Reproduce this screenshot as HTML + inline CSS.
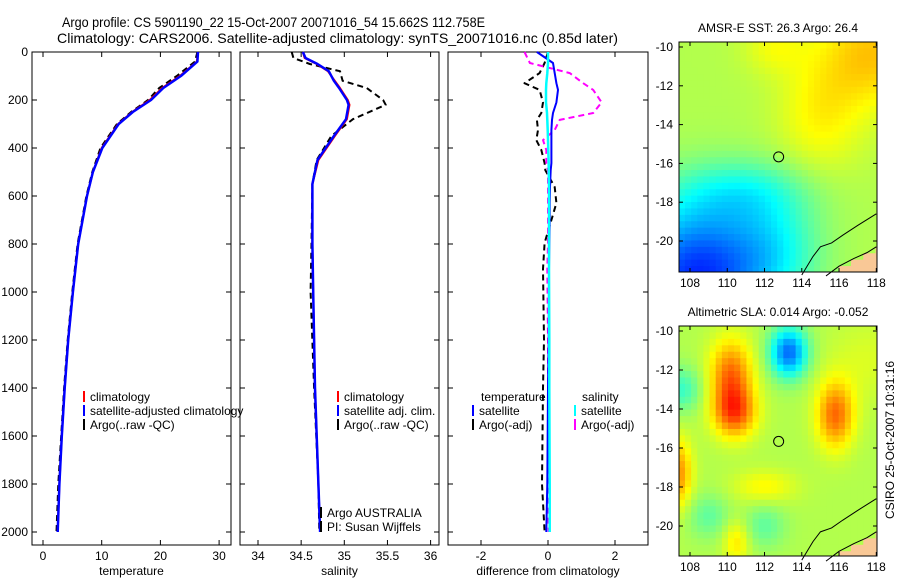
<!DOCTYPE html>
<html><head><meta charset="utf-8"><style>
body{margin:0;background:#fff;}
svg{display:block;font-family:"Liberation Sans",sans-serif;}
text{font-size:12px;fill:#000;}
</style></head><body>
<svg id="fig" width="900" height="580" viewBox="0 0 900 580" xmlns="http://www.w3.org/2000/svg">
<rect width="900" height="580" fill="#fff"/>
<text x="62" y="27" style="font-size:14px" textLength="423" lengthAdjust="spacingAndGlyphs">Argo profile: CS 5901190_22 15-Oct-2007 20071016_54 15.662S 112.758E</text>
<text x="57" y="43" style="font-size:14px" textLength="561" lengthAdjust="spacingAndGlyphs">Climatology: CARS2006. Satellite-adjusted climatology: synTS_20071016.nc (0.85d later)</text>
<g id="layer"></g>
</svg>
<script>
// ---- data ----
const tDepth=[0,40,100,150,200,250,300,400,500,600,800,1000,1200,1400,1600,1800,2000];
const tClim=[26.4,26.2,23.3,20.3,18.2,15.2,12.8,10,8.5,7.5,6.0,5.1,4.3,3.7,3.2,2.8,2.5];
const tSat=[26.4,26.3,23.5,20.5,18.4,15.3,12.9,10.1,8.5,7.5,6.0,5.1,4.3,3.7,3.2,2.8,2.5];
const tArgo=[26.3,25.9,22.8,19.8,17.9,15.0,12.6,9.8,8.4,7.4,5.9,5.0,4.2,3.6,3.1,2.6,2.3];
const sDepth=[0,25,50,80,120,150,200,220,280,350,450,550,800,1000,1400,1800,2000];
const sClim=[34.52,34.54,34.68,34.81,34.89,34.95,35.04,35.06,35.03,34.89,34.70,34.63,34.63,34.64,34.66,34.70,34.72];
const sSat=[34.52,34.55,34.69,34.82,34.88,34.94,35.03,35.05,35.02,34.88,34.69,34.63,34.63,34.64,34.66,34.70,34.72];
const sArgo=[34.39,34.41,34.60,34.95,34.98,35.26,35.45,35.48,35.10,34.85,34.68,34.63,34.62,34.61,34.65,34.70,34.71];
const dDepth=[0,46,88,130,158,210,254,283,325,367,408,463,492,563,629,700,796,904,1200,1400,1800,2000];
const dTsat=[-0.33,0.15,0.2,0.25,0.3,0.25,0.15,0.12,0.1,0.1,0.1,0.1,0.08,0.06,0.05,0.05,0.04,0.03,0.02,0.0,-0.02,-0.05];
const dTargo=[0,-0.1,-0.25,-0.7,-0.25,-0.15,-0.2,-0.33,-0.3,-0.35,-0.2,-0.1,-0.08,0.2,0.25,0.1,-0.1,-0.15,-0.12,-0.15,-0.18,-0.1];
const dSsat=[0,0,-0.02,-0.05,-0.06,-0.06,-0.03,-0.02,-0.01,0,0.01,0.02,0.02,0.03,0.03,0.03,0.03,0.03,0.04,0.04,0.05,0.05];
const dSargo=[-0.7,-0.54,0.65,1.05,1.35,1.6,1.35,0.35,0.2,-0.15,-0.05,-0.05,0,0,0,0,0,-0.02,0,0,0,0.02];
const depthTicks=[0,200,400,600,800,1000,1200,1400,1600,1800,2000];
const tTicks=[0,10,20,30];
const sTicks=[34,34.5,35,35.5,36];
const dTicks=[-2,0,2];
const latTicks=[-10,-12,-14,-16,-18,-20];
const lonTicks=[108,110,112,114,116,118];

const NS='http://www.w3.org/2000/svg';
const L=document.getElementById('layer');
function mk(tag,attrs,parent){const e=document.createElementNS(NS,tag);for(const k in attrs)e.setAttribute(k,attrs[k]);(parent||L).appendChild(e);return e;}
function txt(x,y,s,anchor,parent){const e=mk('text',{x:x,y:y,'text-anchor':anchor||'start'},parent);e.textContent=s;return e;}
const yD=d=>52+d*0.24;
const Y0=52,Y1=545;

function panel(name,x0,x1,xs,ticks,fmt,label,showY){
  const g=mk('g',{});
  
  
  const r=mk('rect',{x:x0,y:Y0,width:x1-x0,height:Y1-Y0,fill:'none',stroke:'#000','stroke-width':1},g);
  
  
  ticks.forEach(t=>{const x=xs(t);
    mk('line',{x1:x,x2:x,y1:Y1,y2:Y1-5,stroke:'#000'},g);
    mk('line',{x1:x,x2:x,y1:Y0,y2:Y0+5,stroke:'#000'},g);
    const tl=txt(x,560,fmt(t),'middle',g);
    
    });
  depthTicks.forEach(d=>{const y=yD(d);
    mk('line',{x1:x0,x2:x0+5,y1:y,y2:y,stroke:'#000'},g);
    mk('line',{x1:x1,x2:x1-5,y1:y,y2:y,stroke:'#000'},g);
    if(showY){const tl=txt(28,y+4,String(d),'end',g);
      
      }});
  const xl=txt((x0+x1)/2,575,label,'middle',g);
  
  
  return g;
}
function series(name,xs,vals,depths,color,w,dash){
  const pts=vals.map((v,i)=>xs(v).toFixed(1)+','+yD(depths[i]).toFixed(1)).join(' ');
  const p=mk('polyline',{points:pts,fill:'none',stroke:color,'stroke-width':w,'stroke-dasharray':dash||'none','stroke-linejoin':'round'});
  
  
}
function legend(x,y,color,label,name){
  const l=mk('line',{x1:x,x2:x,y1:y-10,y2:y+1,stroke:color,'stroke-width':2});
  
  
  const t=txt(x+6,y,label);
  
  
}

const xT=t=>43+5.87*t;
panel('temperature-panel',32,231,xT,tTicks,String,'temperature',true);
series('temperature-argo',xT,tArgo,tDepth,'#000',2,'6,4');
series('temperature-climatology',xT,tClim,tDepth,'#f00',2);
series('temperature-satellite',xT,tSat,tDepth,'#00f',2.5);
legend(84,401,'#f00','climatology','legend-climatology');
legend(84,415,'#00f','satellite-adjusted climatology','legend-satellite-adjusted');
legend(84,429,'#000','Argo(..raw -QC)','legend-argo');

const xS=s=>258+86.3*(s-34);
panel('salinity-panel',240,439,xS,sTicks,String,'salinity',false);
series('salinity-argo',xS,sArgo,sDepth,'#000',2,'6,4');
series('salinity-climatology',xS,sClim,sDepth,'#f00',2);
series('salinity-satellite',xS,sSat,sDepth,'#00f',2.5);
legend(338,401,'#f00','climatology','legend-sal-climatology');
legend(338,415,'#00f','satellite adj. clim.','legend-sal-satellite');
legend(338,429,'#000','Argo(..raw -QC)','legend-sal-argo');
legend(321,517,'#000','Argo AUSTRALIA','credit-argo-australia');
legend(321,531,'#000','PI: Susan Wijffels','credit-pi');

const xDf=d=>548+33.5*d;
panel('difference-panel',448,648,xDf,dTicks,String,'difference from climatology',false);
series('diff-temperature-argo',xDf,dTargo,dDepth,'#000',2,'6,4');
series('diff-salinity-argo',xDf,dSargo,dDepth,'#f0f',2,'6,4');
series('diff-temperature-satellite',xDf,dTsat,dDepth,'#00f',2);
series('diff-salinity-satellite',xDf,dSsat,dDepth,'#0ff',2.5);
const lt=txt(481,401,'temperature');
const ls=txt(582,401,'salinity');
legend(473,415,'#00f','satellite','legend-diff-temp-satellite');
legend(473,429,'#000','Argo(-adj)','legend-diff-temp-argo');
legend(575,415,'#0ff','satellite','legend-diff-sal-satellite');
legend(575,429,'#f0f','Argo(-adj)','legend-diff-sal-argo');

function jet(v){v=Math.max(0,Math.min(1,v));
  const r=Math.max(0,Math.min(1,1.5-Math.abs(4*v-3)));
  const g=Math.max(0,Math.min(1,1.5-Math.abs(4*v-2)));
  const b=Math.max(0,Math.min(1,1.5-Math.abs(4*v-1)));
  return 'rgb('+Math.round(r*255)+','+Math.round(g*255)+','+Math.round(b*255)+')';}
function gs(lo,la,clo,cla,s){const dx=lo-clo,dy=la-cla;return Math.exp(-(dx*dx+dy*dy)/(2*s*s));}
function gsa(lo,la,clo,cla,sx,sy){const dx=(lo-clo)/sx,dy=(la-cla)/sy;return Math.exp(-(dx*dx+dy*dy)/2);}
const sstField=(lo,la)=>0.55+0.13*gs(lo,la,117.8,-10.3,2.0)+0.08*gsa(lo,la,115,-13.5,1.6,2.2)+0.06*gsa(lo,la,112.5,-10,1.2,1.0)
  -0.38*gs(lo,la,108.3,-21.8,2.6)-0.13*gs(lo,la,112.5,-20.5,1.8)-0.12*gsa(lo,la,111,-17.5,2.5,1.2);
const slaField=(lo,la)=>0.55+0.22*gsa(lo,la,110.2,-12.3,0.8,1.3)+0.22*gsa(lo,la,110.4,-14.2,0.8,0.9)
  +0.22*gsa(lo,la,115.8,-14.3,0.7,1.2)-0.32*gsa(lo,la,113.3,-11.1,0.7,0.9)
  -0.12*gs(lo,la,107.5,-13,0.8)+0.18*gsa(lo,la,107.4,-17.3,0.5,1.2)+0.08*gsa(lo,la,112,-18,1.2,0.6)
  -0.08*gs(lo,la,109,-19.5,0.8)-0.08*gs(lo,la,112,-20,0.8)+0.1*gsa(lo,la,110.5,-20.8,0.5,0.8)
  +0.04*gs(lo,la,117.5,-11.5,1.5);
function landLat(lo){return -21.8+Math.max(0,lo-115.3)*0.5;}
function map(name,x0,y0,y1,latTop,pxPerLat,field,title){
  const g=mk('g',{});
  
  
  const x1=877,lonL=107.4,pxLon=18.63;
  const xl=lo=>690+(lo-108)*pxLon, yl=la=>latTop+(-10-la)*pxPerLat;
  const step=0.33;
  const laStart=-10+(latTop-y0)/pxPerLat, laEnd=-10-(y1-latTop)/pxPerLat;
  for(let lo=lonL;lo<118.05;lo+=step){
    for(let la=laStart;la>laEnd-0.001;la-=step){
      const cx=lo+step/2,cy=la-step/2;
      let col=jet(field(cx,cy));
      if(cy<landLat(cx)) col='#f9c896';
      const xa=Math.max(x0,xl(lo)),xb=Math.min(x1,xl(lo+step)+0.6);
      const ya=Math.max(y0,yl(la)),yb=Math.min(y1,yl(la-step)+0.6);
      if(xb>xa&&yb>ya) mk('rect',{x:xa,y:ya,width:xb-xa,height:yb-ya,fill:col},g);
    }
  }
  const cpts=[[114,-21.75],[114.6,-20.8],[115,-20.3],[115.6,-20.1],[116.2,-19.7],[117,-19.2],[118,-18.6]];
  mk('polyline',{points:cpts.map(p=>xl(p[0])+','+yl(p[1])).join(' '),fill:'none',stroke:'#000','stroke-width':1},g);
  const lpts=[[115.3,-21.8],[116,-21.3],[116.8,-20.9],[117.5,-20.6],[118,-20.3]];
  mk('polyline',{points:lpts.map(p=>xl(p[0])+','+yl(p[1])).join(' '),fill:'none',stroke:'#000','stroke-width':1},g);
  mk('rect',{x:x0,y:y0,width:x1-x0,height:y1-y0,fill:'none',stroke:'#000'},g);
  const c=mk('circle',{cx:xl(112.758),cy:yl(-15.662),r:5,fill:'none',stroke:'#000'},g);
  
  
  latTicks.forEach(la=>{const y=yl(la);
    mk('line',{x1:x0,x2:x0+4,y1:y,y2:y,stroke:'#000'},g);mk('line',{x1:x1,x2:x1-4,y1:y,y2:y,stroke:'#000'},g);
    const t=txt(673,y+4,String(la),'end',g);});
  lonTicks.forEach(lo=>{const x=xl(lo);
    mk('line',{x1:x,x2:x,y1:y0,y2:y0+4,stroke:'#000'},g);mk('line',{x1:x,x2:x,y1:y1,y2:y1-4,stroke:'#000'},g);
    const t=txt(x,y1+15,String(lo),'middle',g);});
  const tt=txt(778,y0-10,title,'middle',g);
  
  
}
map('sst-map',679,42,272,47,19.4,sstField,'AMSR-E SST: 26.3 Argo: 26.4');
map('sla-map',679,326,556,331,19.5,slaField,'Altimetric SLA: 0.014 Argo: -0.052');
const st=txt(0,0,'CSIRO 25-Oct-2007 10:31:16','middle');
st.setAttribute('transform','translate(894,440) rotate(-90)');


</script>
</body></html>
